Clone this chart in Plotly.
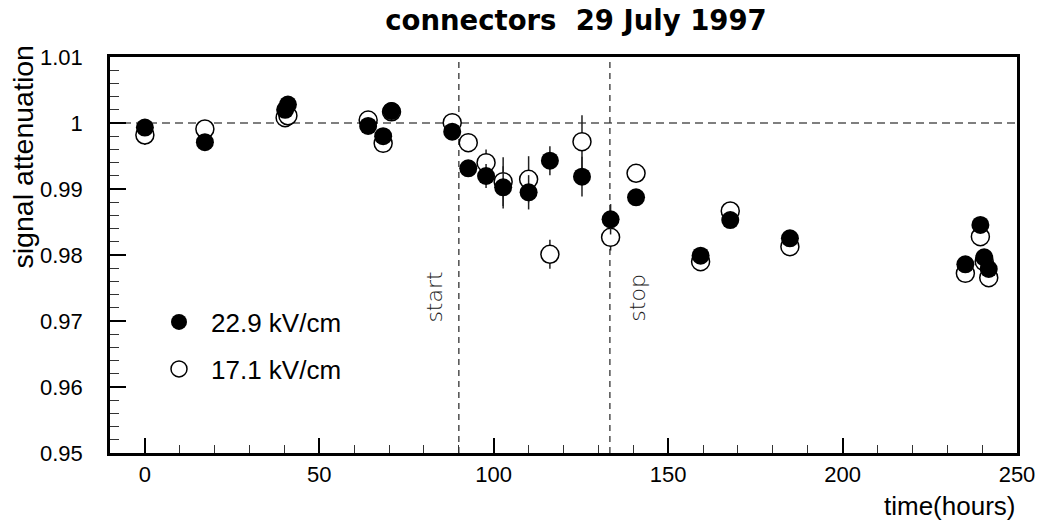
import plotly.graph_objects as go

# Elapsed time of each measurement (hours)
hours = [0, 17.2, 40.2, 41.0, 64.0, 68.3, 70.7, 88.1, 92.7, 97.8, 102.7, 110.0,
         116.1, 125.3, 133.5, 140.8, 159.3, 167.8, 184.9, 235.2, 239.5, 240.6, 241.9]

# Signal attenuation at 22.9 kV/cm and its uncertainty
att_229 = [0.9993, 0.9971, 1.0020, 1.0028, 0.99955, 0.9980, 1.0018, 0.99868, 0.99313,
           0.99197, 0.99026, 0.9895, 0.99429, 0.99187, 0.98541, 0.98874, 0.97989,
           0.9853, 0.98253, 0.97859, 0.98455, 0.97965, 0.97788]
err_229 = [0.001, 0.001, 0.001, 0.001, 0.001, 0.001, 0.001, 0.001, 0.001,
           0.0018, 0.0032, 0.0026, 0.0022, 0.0030, 0.0023, 0.001, 0.001,
           0.001, 0.001, 0.001, 0.001, 0.001, 0.001]

# Signal attenuation at 17.1 kV/cm and its uncertainty
att_171 = [0.99818, 0.99909, 1.0008, 1.0011, 1.00045, 0.99692, 1.0017, 1.00005, 0.99702,
           0.99399, 0.99111, 0.99147, 0.98011, 0.99717, 0.98268, 0.99238, 0.97899,
           0.98667, 0.98126, 0.97722, 0.98277, 0.9790, 0.97656]
err_171 = [0.0015, 0.0013, 0.0014, 0.001, 0.001, 0.0014, 0.001, 0.001, 0.001,
           0.0020, 0.0037, 0.0035, 0.0022, 0.0040, 0.0020, 0.001, 0.001,
           0.001, 0.001, 0.001, 0.001, 0.001, 0.001]

# Start / stop of the irradiation period (hours)
start_h = 90.0
stop_h = 133.3

x_ticks = [0, 50, 100, 150, 200, 250]
x_tick_text = ["0", "50", "100", "150", "200", "250"]
y_ticks = [0.95, 0.96, 0.97, 0.98, 0.99, 1.00, 1.01]
y_tick_text = ["0.95", "0.96", "0.97", "0.98", "0.99", "1", "1.01"]

FONT = "Liberation Sans, Arial, Helvetica, sans-serif"
BOLD = "DejaVu Sans, sans-serif"
THIN = "DejaVu Sans, sans-serif"

W, H = 1039, 522
L, R, T, B = 110, 22, 57, 69
PW, PH = W - L - R, H - T - B


def px_x(p):
    """Horizontal pixel -> paper coordinate."""
    return (p - L) / PW


def px_y(p):
    """Vertical pixel (from top) -> paper coordinate."""
    return (H - B - p) / PH


fig = go.Figure()

fig.add_trace(go.Scatter(
    x=hours, y=att_171, mode="markers", name="17.1 kV/cm",
    marker=dict(symbol="circle", size=18, color="white",
                line=dict(color="black", width=1.5)),
    error_y=dict(type="data", array=err_171, color="#222222", thickness=1.5, width=0),
    legend="legend2", showlegend=True,
))
fig.add_trace(go.Scatter(
    x=hours, y=att_229, mode="markers", name="22.9 kV/cm",
    marker=dict(symbol="circle", size=18, color="black",
                line=dict(color="black", width=0)),
    error_y=dict(type="data", array=err_229, color="#222222", thickness=1.5, width=0),
    legend="legend", showlegend=True,
))

# Reference line at no attenuation and the start/stop markers
fig.add_shape(type="line", xref="paper", yref="y", x0=0, x1=1, y0=1.0, y1=1.0,
              line=dict(color="#555555", width=1.5, dash="8px,5px"), layer="below")
for t in (start_h, stop_h):
    fig.add_shape(type="line", xref="x", yref="paper", x0=t, x1=t, y0=0, y1=1,
                  line=dict(color="#333333", width=1.3, dash="6px,5px"), layer="below")

fig.add_annotation(x=start_h, y=0.9736, xref="x", yref="y", text="start", showarrow=False,
                   textangle=-90, xanchor="right", yanchor="middle", xshift=-10,
                   font=dict(family=THIN, size=22, color="#222222", weight=200))
fig.add_annotation(x=stop_h, y=0.9736, xref="x", yref="y", text="stop", showarrow=False,
                   textangle=-90, xanchor="left", yanchor="middle", xshift=13,
                   font=dict(family=THIN, size=22, color="#222222", weight=200))

# Axis titles
fig.add_annotation(x=px_x(22), y=px_y(44), xref="paper", yref="paper",
                   text="signal attenuation", showarrow=False, textangle=-90,
                   xanchor="center", yanchor="top",
                   font=dict(family=FONT, size=28.5, color="black"))
fig.add_annotation(x=px_x(1017), y=px_y(506), xref="paper", yref="paper", text="time(hours)",
                   showarrow=False, xanchor="right", yanchor="middle",
                   font=dict(family=FONT, size=26, color="black"))

fig.update_layout(
    width=W, height=H,
    margin=dict(l=L, r=R, t=T, b=B, autoexpand=False),
    paper_bgcolor="white", plot_bgcolor="white",
    showlegend=True,
    font=dict(family=FONT, color="black"),
    title=dict(text="<b>connectors\u00a0 29 July 1997</b>", x=576 / W, xref="container",
               xanchor="center", y=1 - 11 / H, yanchor="top",
               font=dict(family=BOLD, size=27.5, color="black")),
    legend=dict(x=px_x(147), y=px_y(322), xanchor="left", yanchor="middle", itemwidth=54,
                font=dict(family=FONT, size=26), bgcolor="rgba(0,0,0,0)"),
    legend2=dict(x=px_x(147), y=px_y(369), xanchor="left", yanchor="middle", itemwidth=54,
                 font=dict(family=FONT, size=26), bgcolor="rgba(0,0,0,0)"),
    xaxis=dict(range=[-10, 250], tickvals=x_ticks, ticktext=x_tick_text,
               ticks="inside", ticklen=15, tickwidth=1.5, tickcolor="black",
               minor=dict(dtick=10, tick0=0, ticks="inside", ticklen=8,
                          tickwidth=1.2, tickcolor="#333333"),
               showline=True, linewidth=2.5, linecolor="black", mirror=True,
               showgrid=False, zeroline=False, ticklabelstandoff=0, automargin=False,
               tickfont=dict(family=FONT, size=22)),
    yaxis=dict(range=[0.95, 1.01], tickvals=y_ticks, ticktext=y_tick_text,
               ticks="inside", ticklen=16, tickwidth=1.5, tickcolor="black",
               minor=dict(dtick=0.002, tick0=0.95, ticks="inside", ticklen=9,
                          tickwidth=1.2, tickcolor="#333333"),
               showline=True, linewidth=2.5, linecolor="black", mirror=True,
               showgrid=False, zeroline=False, ticklabelstandoff=20, automargin=False,
               tickfont=dict(family=FONT, size=22)),
)

fig.write_html("out.html")
